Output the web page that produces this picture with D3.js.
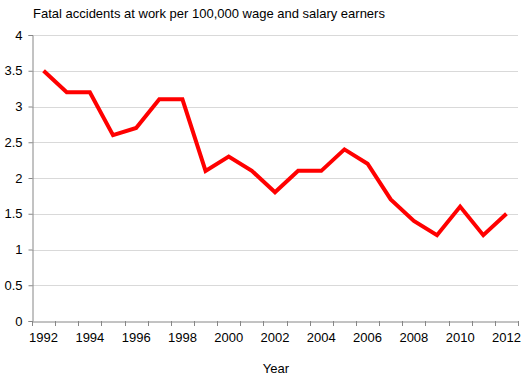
<!DOCTYPE html>
<html><head><meta charset="utf-8">
<script src="https://cdn.jsdelivr.net/npm/d3@7"></script>
<style>body{margin:0;background:#fff}svg{display:block}text{font-family:"Liberation Sans",Arial,sans-serif;fill:#000}</style>
</head><body>
<script>
const years = [1992,1993,1994,1995,1996,1997,1998,1999,2000,2001,2002,2003,2004,2005,2006,2007,2008,2009,2010,2011,2012];
const rates = [3.5,3.2,3.2,2.6,2.7,3.1,3.1,2.1,2.3,2.1,1.8,2.1,2.1,2.4,2.2,1.7,1.4,1.2,1.6,1.2,1.5];
const yTicks = [0,0.5,1,1.5,2,2.5,3,3.5,4];
const title = "Fatal accidents at work per 100,000 wage and salary earners";
const xTitle = "Year";

const W=529,H=379, L=32, R=518, T=35, B=321;
const svg=d3.select("body").append("svg").attr("width",W).attr("height",H);
const x=d3.scaleBand().domain(years).range([L,R]);
const y=d3.scaleLinear().domain([0,4]).range([B,T]);

svg.append("g").selectAll("line").data(yTicks.filter(d=>d>0)).join("line")
 .attr("x1",L).attr("x2",R).attr("y1",d=>Math.round(y(d))+0.5).attr("y2",d=>Math.round(y(d))+0.5)
 .attr("stroke","#d9d9d9").attr("stroke-width",1);

// y axis
const gy=svg.append("g").attr("transform",`translate(${L+0.5},0)`)
 .call(d3.axisLeft(y).tickValues(yTicks).tickSize(4).tickPadding(6).tickFormat(d3.format("")));
gy.select(".domain").attr("stroke","#868686");
gy.selectAll(".tick line").attr("stroke","#868686");
gy.selectAll(".tick text").attr("font-size",13);

// x axis
const gx=svg.append("g").attr("transform",`translate(0,${B+0.5})`)
 .call(d3.axisBottom(x).tickSize(0).tickPadding(11).tickFormat(d=>d%2===0?d:""));
gx.select(".domain").attr("stroke","#868686");
gx.selectAll(".tick text").attr("font-size",13);
const bounds=years.map(d=>x(d)).concat([R]);
svg.append("g").selectAll("line").data(bounds).join("line")
 .attr("x1",d=>Math.round(d)+0.5).attr("x2",d=>Math.round(d)+0.5).attr("y1",B).attr("y2",B+5)
 .attr("stroke","#868686");

const line=d3.line().x((d,i)=>x(years[i])+x.bandwidth()/2).y(d=>y(d));
svg.append("path").datum(rates).attr("d",line).attr("fill","none")
 .attr("stroke","#ff0000").attr("stroke-width",4).attr("stroke-linejoin","miter");

svg.append("text").attr("x",33).attr("y",18).attr("font-size",13).text(title);
svg.append("text").attr("x",276).attr("y",373).attr("font-size",13).attr("text-anchor","middle").text(xTitle);
</script>
</body></html>
